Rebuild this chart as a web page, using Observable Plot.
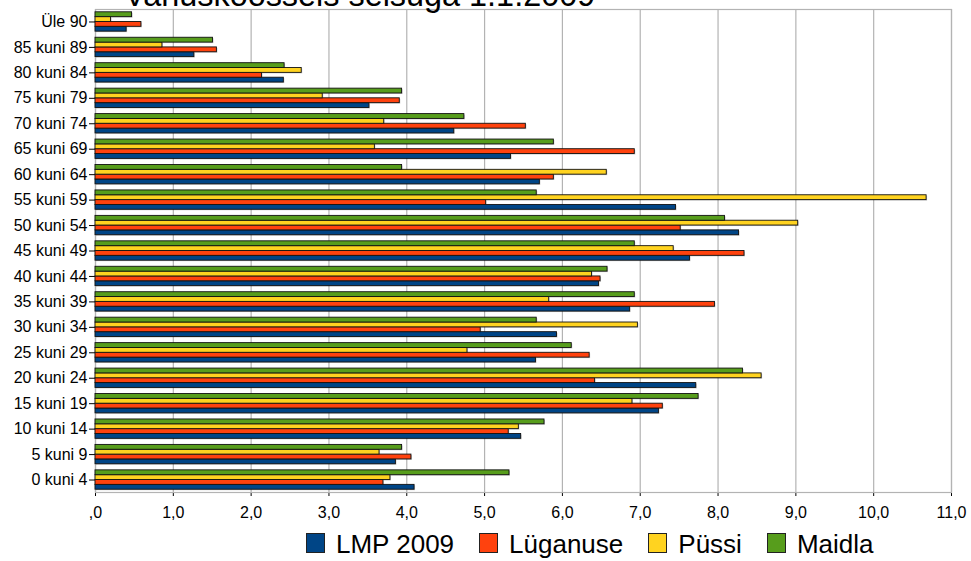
<!DOCTYPE html>
<html>
<head>
<meta charset="utf-8">
<script src="https://cdn.jsdelivr.net/npm/d3@7"></script>
<script src="https://cdn.jsdelivr.net/npm/@observablehq/plot@0.6"></script>
<style>
  body { margin: 0; background: white; font-family: "Liberation Sans", Arial, sans-serif; }
  #wrap { position: relative; width: 971px; height: 561px; overflow: hidden; background: white; }
  #grid, #chart { position: absolute; left: 0; top: 0; }
  #title { position: absolute; left: 124px; top: -21px; font-size: 32.4px; line-height: 32px; white-space: nowrap; color: #000; z-index: 2; }
  #legend { position: absolute; left: 306px; top: 531px; height: 26px; display: flex; gap: 25px; z-index: 2; }
  .item { display: flex; align-items: flex-start; }
  .sw { width: 19px; height: 20px; margin-top: 2px; box-sizing: border-box; border: 1px solid #222; margin-right: 11px; }
  .lab { font-size: 26px; line-height: 26px; color: #000; white-space: nowrap; }
</style>
</head>
<body>
<div id="wrap">
  <div id="grid"></div>
  <div id="chart"></div>
  <div id="title"></div>
  <div id="legend"></div>
</div>
<script>
const titleText = "Vanuskoosseis seisuga 1.1.2009";

const categories = ["Üle 90","85 kuni 89","80 kuni 84","75 kuni 79","70 kuni 74","65 kuni 69","60 kuni 64","55 kuni 59","50 kuni 54","45 kuni 49","40 kuni 44","35 kuni 39","30 kuni 34","25 kuni 29","20 kuni 24","15 kuni 19","10 kuni 14","5 kuni 9","0 kuni 4"];

const seriesNames = ["LMP 2009","Lüganuse","Püssi","Maidla"];
const seriesColors = ["#004586","#ff420e","#ffd320","#579d1c"];

const lmp2009  = [0.40,1.27,2.42,3.52,4.61,5.34,5.71,7.46,8.27,7.64,6.47,6.87,5.93,5.66,7.72,7.24,5.47,3.86,4.10];
const luganuse = [0.59,1.56,2.14,3.91,5.53,6.93,5.89,5.02,7.52,8.34,6.49,7.96,4.95,6.35,6.42,7.29,5.31,4.06,3.70];
const pussi    = [0.20,0.86,2.65,2.92,3.71,3.59,6.57,10.68,9.03,7.43,6.38,5.83,6.97,4.78,8.56,6.90,5.44,3.65,3.79];
const maidla   = [0.47,1.51,2.43,3.94,4.74,5.89,3.94,5.67,8.09,6.93,6.58,6.93,5.67,6.12,8.32,7.75,5.77,3.94,5.32];

const xTicks = [0,1,2,3,4,5,6,7,8,9,10,11];

const seriesValues = [lmp2009, luganuse, pussi, maidla];
const data = [];
categories.forEach((c, i) => {
  seriesNames.forEach((s, j) => {
    data.push({cat: c, series: s, value: seriesValues[j][i]});
  });
});

const fmt = d => d === 0 ? ",0" : d.toFixed(1).replace(".", ",");

const common = {
  width: 971,
  height: 522,
  marginLeft: 95,
  marginRight: 20,
  marginTop: 9,
  marginBottom: 30
};
const fontStyle = {fontFamily: "'Liberation Sans', Arial, sans-serif", fontSize: "16px", color: "#000"};

// Background: grid, frame and x axis
const gridPlot = Plot.plot({
  ...common,
  style: {...fontStyle, background: "white"},
  x: {domain: [0, 11], ticks: xTicks, tickFormat: fmt, tickSize: 4, tickPadding: 10, label: null},
  y: {domain: categories, axis: null},
  marks: [
    Plot.ruleX(xTicks, {x: d => d, stroke: "#b3b3b3", strokeWidth: 1.2}),
    Plot.frame({stroke: "#b3b3b3", strokeWidth: 1.2})
  ]
});
document.getElementById("grid").appendChild(gridPlot);

// Foreground: grouped bars faceted by age group
const chart = Plot.plot({
  ...common,
  style: {...fontStyle, background: "transparent"},
  x: {domain: [0, 11], axis: null},
  y: {domain: ["Maidla","Püssi","Lüganuse","LMP 2009"], axis: null, paddingInner: 0, paddingOuter: 0, round: false},
  fy: {domain: categories, axis: "left", paddingInner: 0.24, paddingOuter: 0.11, round: false, label: null, tickSize: 6, tickPadding: 2},
  color: {domain: seriesNames, range: seriesColors},
  marks: [
    Plot.barX(data, {fy: "cat", y: "series", x: "value", fill: "#000", fillOpacity: 0.22, dx: 1, dy: 1, inset: 0}),
    Plot.barX(data, {fy: "cat", y: "series", x: "value", fill: "series", stroke: "#111", strokeWidth: 0.9, inset: 0})
  ]
});
document.getElementById("chart").appendChild(chart);

document.getElementById("title").textContent = titleText;

const legend = document.getElementById("legend");
seriesNames.forEach((s, i) => {
  const item = document.createElement("div");
  item.className = "item";
  const sw = document.createElement("div");
  sw.className = "sw";
  sw.style.background = seriesColors[i];
  const lab = document.createElement("div");
  lab.className = "lab";
  lab.textContent = s;
  item.appendChild(sw);
  item.appendChild(lab);
  legend.appendChild(item);
});
</script>
</body>
</html>
